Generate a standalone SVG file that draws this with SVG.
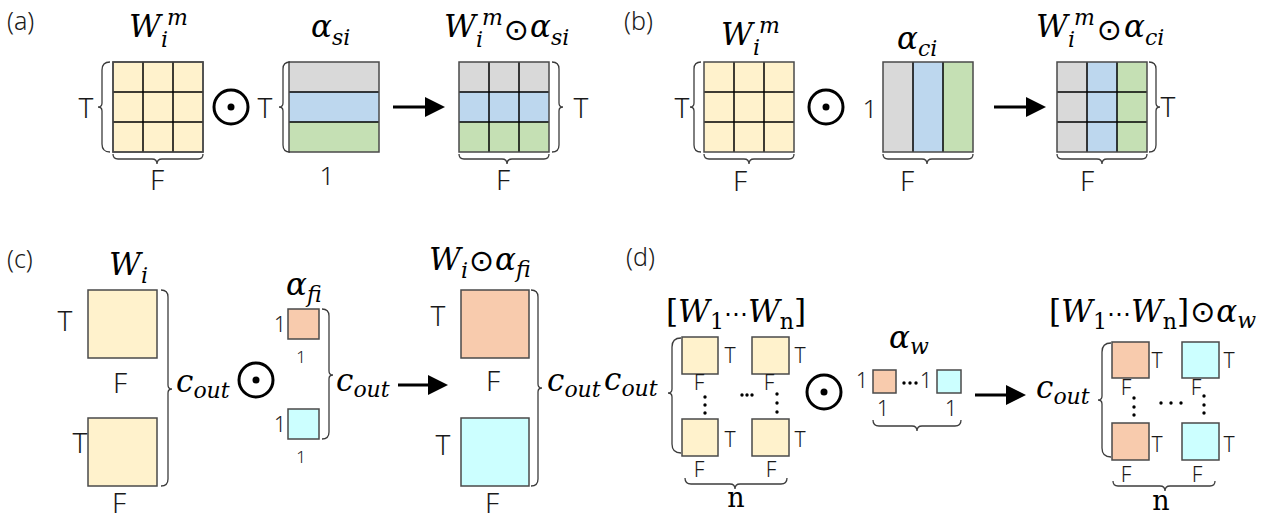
<svg xmlns="http://www.w3.org/2000/svg" width="1273" height="521" viewBox="0 0 1273 521">
<style>
.lbl{font-family:"Noto Sans","Open Sans",sans-serif;font-size:28px;font-weight:300;fill:#1a1a1a;text-anchor:middle}
.sm{font-size:21px}
.xs{font-size:17px}
.pl{font-family:"Noto Sans","Open Sans",sans-serif;font-size:25px;font-weight:300;fill:#1a1a1a}
.math{font-family:"DejaVu Serif",serif;font-style:italic;font-size:31px;fill:#000}
.sub{font-size:22px}
.up{font-style:normal}
.op{font-family:"DejaVu Sans",sans-serif;font-style:normal;font-size:30px}
.nn{font-family:"DejaVu Serif",serif;font-size:27px;fill:#000;text-anchor:middle}
.br{fill:none;stroke:#3c3c3c;stroke-width:1.3}
.grid{stroke:#000;stroke-width:1.5}
.box{stroke:#4a4a4a;stroke-width:1.5}
.y{fill:#fff2cc}.g{fill:#d9d9d9}.b{fill:#bdd7ee}.gr{fill:#c5e0b4}.o{fill:#f8cbad}.c{fill:#ccffff}
.odc{fill:none;stroke:#000;stroke-width:3}
.dot{fill:#000}
.arr{stroke:#000;stroke-width:3;marker-end:url(#ah)}
</style>
<defs>
<marker id="ah" markerUnits="userSpaceOnUse" markerWidth="20" markerHeight="20" refX="5" refY="10" orient="auto"><path d="M0,0 L20,10 L0,20 z" fill="#000"/></marker>
<g id="odot"><circle class="odc" r="17"/><circle class="dot" r="3.5"/></g>
</defs>
<rect width="1273" height="521" fill="#fff"/>

<!-- panel labels -->
<text class="pl" x="7" y="30">(a)</text>
<text class="pl" x="624" y="30">(b)</text>
<text class="pl" x="7" y="268">(c)</text>
<text class="pl" x="626" y="266">(d)</text>

<!-- (a) -->
<g id="a-W">
<text class="math" x="129" y="37">W<tspan class="sub" dy="10">i</tspan><tspan class="sub" dx="-1" dy="-22">m</tspan></text>
<rect class="y box" x="113" y="62" width="90" height="90"/>
<path class="grid" d="M143,62V152M173,62V152M113,92H203M113,122H203"/>
<rect class="box" x="113" y="62" width="90" height="90" fill="none"/>
<path class="br" d="M110,62 Q102,62 102,70 L102,103 Q102,107 98,107 Q102,107 102,111 L102,144 Q102,152 110,152"/>
<path class="br" d="M113,154 Q113,159 118,159 L152,159 Q157,159 157,164 Q157,159 162,159 L198,159 Q203,159 203,154"/>
<text class="lbl" x="86" y="118">T</text>
<text class="lbl" x="157" y="190">F</text>
</g>
<use id="a-odot" href="#odot" x="231" y="107"/>
<g id="a-alpha">
<text class="math" x="311" y="37">α<tspan class="sub" dy="8">si</tspan></text>
<rect class="g" x="289" y="62" width="90" height="30"/>
<rect class="b" x="289" y="92" width="90" height="30"/>
<rect class="gr" x="289" y="122" width="90" height="30"/>
<path class="grid" d="M289,92H379M289,122H379"/>
<rect class="box" x="289" y="62" width="90" height="90" fill="none"/>
<path class="br" d="M290,62 Q283,62 283,69 L283,103 Q283,107 279,107 Q283,107 283,111 L283,145 Q283,152 290,152"/>
<text class="lbl" x="265" y="118">T</text>
<text class="lbl" x="327" y="185" style="font-size:26px">1</text>
</g>
<g id="a-result">
<text class="math" x="444" y="37">W<tspan class="sub" dy="10">i</tspan><tspan class="sub" dx="-1" dy="-22">m</tspan><tspan class="op" dx="1" dy="15">⊙</tspan><tspan dx="1" dy="-3">α</tspan><tspan class="sub" dy="8">si</tspan></text>
<rect class="g" x="459" y="62" width="90" height="30"/>
<rect class="b" x="459" y="92" width="90" height="30"/>
<rect class="gr" x="459" y="122" width="90" height="30"/>
<path class="grid" d="M489,62V152M519,62V152M459,92H549M459,122H549"/>
<rect class="box" x="459" y="62" width="90" height="90" fill="none"/>
<path class="br" d="M552,62 Q559,62 559,69 L559,103 Q559,107 563,107 Q559,107 559,111 L559,145 Q559,152 552,152"/>
<path class="br" d="M459,154 Q459,159 464,159 L502,159 Q507,159 507,164 Q507,159 512,159 L544,159 Q549,159 549,154"/>
<text class="lbl" x="581" y="118">T</text>
<text class="lbl" x="503" y="190">F</text>
</g>

<!-- (b) -->
<g id="b-W">
<text class="math" x="721" y="45">W<tspan class="sub" dy="10">i</tspan><tspan class="sub" dx="-1" dy="-22">m</tspan></text>
<rect class="y" x="704" y="62" width="90" height="90"/>
<path class="grid" d="M734,62V152M764,62V152M704,92H794M704,122H794"/>
<rect class="box" x="704" y="62" width="90" height="90" fill="none"/>
<path class="br" d="M701,62 Q694,62 694,69 L694,103 Q694,107 690,107 Q694,107 694,111 L694,145 Q694,152 701,152"/>
<path class="br" d="M704,154 Q704,159 709,159 L744,159 Q749,159 749,164 Q749,159 754,159 L789,159 Q794,159 794,154"/>
<text class="lbl" x="682" y="118">T</text>
<text class="lbl" x="740" y="191">F</text>
</g>
<use id="b-odot" href="#odot" x="826" y="107"/>
<g id="b-alpha">
<text class="math" x="897" y="49">α<tspan class="sub" dy="7">ci</tspan></text>
<rect class="g" x="883" y="62" width="30" height="90"/>
<rect class="b" x="913" y="62" width="30" height="90"/>
<rect class="gr" x="943" y="62" width="30" height="90"/>
<path class="grid" d="M913,62V152M943,62V152"/>
<rect class="box" x="883" y="62" width="90" height="90" fill="none"/>
<path class="br" d="M883,154 Q883,159 888,159 L922,159 Q927,159 927,164 Q927,159 932,159 L968,159 Q973,159 973,154"/>
<text class="lbl" x="870" y="118" style="font-size:26px">1</text>
<text class="lbl" x="907" y="191">F</text>
</g>
<g id="b-result">
<text class="math" x="1036" y="37">W<tspan class="sub" dy="10">i</tspan><tspan class="sub" dx="-1" dy="-22">m</tspan><tspan class="op" dx="2" dy="15">⊙</tspan><tspan dx="2" dy="-3">α</tspan><tspan class="sub" dy="8">ci</tspan></text>
<rect class="g" x="1057" y="62" width="30" height="90"/>
<rect class="b" x="1087" y="62" width="30" height="90"/>
<rect class="gr" x="1117" y="62" width="30" height="90"/>
<path class="grid" d="M1087,62V152M1117,62V152M1057,92H1147M1057,122H1147"/>
<rect class="box" x="1057" y="62" width="90" height="90" fill="none"/>
<path class="br" d="M1149,62 Q1156,62 1156,69 L1156,103 Q1156,107 1160,107 Q1156,107 1156,111 L1156,145 Q1156,152 1149,152"/>
<path class="br" d="M1057,154 Q1057,159 1062,159 L1097,159 Q1102,159 1102,164 Q1102,159 1107,159 L1142,159 Q1147,159 1147,154"/>
<text class="lbl" x="1168" y="117">T</text>
<text class="lbl" x="1087" y="191">F</text>
</g>

<!-- (c) -->
<g id="c-W">
<text class="math" x="109" y="275">W<tspan class="sub" dy="8">i</tspan></text>
<rect class="y box" x="88" y="290" width="69" height="68"/>
<rect class="y box" x="88" y="418" width="69" height="68"/>
<text class="lbl" x="65" y="331">T</text>
<text class="lbl" x="120" y="393">F</text>
<text class="lbl" x="80" y="453">T</text>
<text class="lbl" x="119" y="513">F</text>
<path class="br" d="M161,290 Q168,290 168,297 L168,385 Q168,389 172,389 Q168,389 168,393 L168,479 Q168,486 161,486"/>
<text class="math" x="176" y="392">c<tspan class="sub" dy="6">out</tspan></text>
</g>
<use id="c-odot" href="#odot" x="256" y="380"/>
<g id="c-alpha">
<text class="math" x="286" y="295">α<tspan class="sub" dy="7">fi</tspan></text>
<rect class="o box" x="288" y="309" width="31" height="30"/>
<rect class="c box" x="288" y="409" width="31" height="30"/>
<text class="lbl sm" x="280" y="332">1</text>
<text class="lbl xs" x="301" y="363">1</text>
<text class="lbl sm" x="280" y="432">1</text>
<text class="lbl xs" x="301" y="463">1</text>
<path class="br" d="M322,309 Q329,309 329,316 L329,371 Q329,375 333,375 Q329,375 329,379 L329,432 Q329,439 322,439"/>
<text class="math" x="336" y="391">c<tspan class="sub" dy="6">out</tspan></text>
</g>
<g id="c-result">
<text class="math" x="429" y="270">W<tspan class="sub" dy="8">i</tspan><tspan class="op" dx="1" dy="-7">⊙</tspan><tspan dx="1" dy="-1">α</tspan><tspan class="sub" dy="7">fi</tspan></text>
<rect class="o box" x="461" y="290" width="68" height="68"/>
<rect class="c box" x="461" y="418" width="68" height="68"/>
<text class="lbl" x="438" y="326">T</text>
<text class="lbl" x="493" y="391">F</text>
<text class="lbl" x="443" y="455">T</text>
<text class="lbl" x="492" y="513">F</text>
<path class="br" d="M531,290 Q538,290 538,297 L538,384 Q538,388 542,388 Q538,388 538,392 L538,479 Q538,486 531,486"/>
<text class="math" x="547" y="391">c<tspan class="sub" dy="6">out</tspan></text>
</g>

<!-- (d) -->
<g id="d-W">
<text class="math" x="666" y="322"><tspan class="up">[</tspan>W<tspan class="sub up" dy="7">1</tspan><tspan class="up" dy="-7" style="font-size:24px">⋯</tspan>W<tspan class="sub up" dy="7">n</tspan><tspan class="up" dy="-7">]</tspan></text>
<text class="math" x="604" y="390">c<tspan class="sub" dy="6">out</tspan></text>
<path class="br" d="M681,338 Q672,338 672,347 L672,389 Q672,393 668,393 Q672,393 672,397 L672,444 Q672,453 681,453"/>
<rect class="y box" x="682" y="337" width="36" height="37"/>
<rect class="y box" x="752" y="337" width="37" height="37"/>
<rect class="y box" x="682" y="419" width="36" height="37"/>
<rect class="y box" x="752" y="419" width="37" height="37"/>
<text class="lbl sm" x="730" y="363">T</text>
<text class="lbl sm" x="800" y="363">T</text>
<text class="lbl sm" x="730" y="447">T</text>
<text class="lbl sm" x="800" y="447">T</text>
<text class="lbl sm" x="699" y="390">F</text>
<text class="lbl sm" x="769" y="390">F</text>
<text class="lbl sm" x="699" y="477">F</text>
<text class="lbl sm" x="771" y="477">F</text>
<g class="dot"><circle cx="705" cy="397" r="1.7"/><circle cx="705" cy="405" r="1.7"/><circle cx="705" cy="413" r="1.7"/>
<circle cx="777" cy="394" r="1.7"/><circle cx="777" cy="403" r="1.7"/><circle cx="777" cy="412" r="1.7"/>
<circle cx="742" cy="395" r="1.7"/><circle cx="747" cy="395" r="1.7"/><circle cx="752" cy="395" r="1.7"/></g>
<path class="br" d="M685,478 Q685,484 691,484 L730,484 Q735,484 735,489 Q735,484 740,484 L781,484 Q787,484 787,478"/>
<text class="nn" x="736" y="507">n</text>
</g>
<use id="d-odot" href="#odot" x="824" y="392"/>
<g id="d-alpha">
<text class="math" x="889" y="348">α<tspan class="sub" dy="6">w</tspan></text>
<rect class="o box" x="873" y="370" width="23" height="23"/>
<rect class="c box" x="937" y="370" width="24" height="23"/>
<text class="lbl sm" x="862" y="388">1</text>
<text class="lbl sm" x="926" y="388">1</text>
<g class="dot"><circle cx="904" cy="383" r="1.7"/><circle cx="910" cy="383" r="1.7"/><circle cx="916" cy="383" r="1.7"/></g>
<text class="lbl sm" x="883" y="416">1</text>
<text class="lbl sm" x="951" y="416">1</text>
<path class="br" d="M873,420 Q873,426 879,426 L912,426 Q917,426 917,431 Q917,426 922,426 L955,426 Q961,426 961,420"/>
</g>
<g id="d-result">
<text class="math" x="1049" y="322"><tspan class="up">[</tspan>W<tspan class="sub up" dy="7">1</tspan><tspan class="up" dy="-7" style="font-size:24px">⋯</tspan>W<tspan class="sub up" dy="7">n</tspan><tspan class="up" dy="-7">]</tspan><tspan class="op" dx="1">⊙</tspan><tspan dx="1">α</tspan><tspan class="sub" dy="6">w</tspan></text>
<text class="math" x="1036" y="398">c<tspan class="sub" dy="6">out</tspan></text>
<path class="br" d="M1111,343 Q1102,343 1102,352 L1102,396 Q1102,400 1098,400 Q1102,400 1102,404 L1102,448 Q1102,457 1111,457"/>
<rect class="o box" x="1112" y="342" width="37" height="36"/>
<rect class="c box" x="1182" y="342" width="37" height="36"/>
<rect class="o box" x="1112" y="423" width="37" height="37"/>
<rect class="c box" x="1182" y="423" width="37" height="37"/>
<text class="lbl sm" x="1157" y="368">T</text>
<text class="lbl sm" x="1229" y="368">T</text>
<text class="lbl sm" x="1157" y="452">T</text>
<text class="lbl sm" x="1229" y="452">T</text>
<text class="lbl sm" x="1126" y="395">F</text>
<text class="lbl sm" x="1196" y="395">F</text>
<text class="lbl sm" x="1126" y="482">F</text>
<text class="lbl sm" x="1197" y="482">F</text>
<g class="dot"><circle cx="1134" cy="398" r="1.7"/><circle cx="1134" cy="407" r="1.7"/><circle cx="1134" cy="415" r="1.7"/>
<circle cx="1204" cy="396" r="1.7"/><circle cx="1204" cy="405" r="1.7"/><circle cx="1204" cy="413" r="1.7"/>
<circle cx="1161" cy="403" r="1.7"/><circle cx="1171" cy="403" r="1.7"/><circle cx="1181" cy="403" r="1.7"/></g>
<path class="br" d="M1113,481 Q1113,486 1118,486 L1160,486 Q1165,486 1165,491 Q1165,486 1170,486 L1210,486 Q1215,486 1215,481"/>
<text class="nn" x="1161" y="510">n</text>
</g>

<g id="connectors">
<line class="arr" x1="393" y1="107" x2="430" y2="107"/>
<line class="arr" x1="994" y1="107" x2="1031" y2="107"/>
<line class="arr" x1="398" y1="385" x2="433" y2="385"/>
<line class="arr" x1="975" y1="395" x2="1011" y2="395"/>
</g>
</svg>
